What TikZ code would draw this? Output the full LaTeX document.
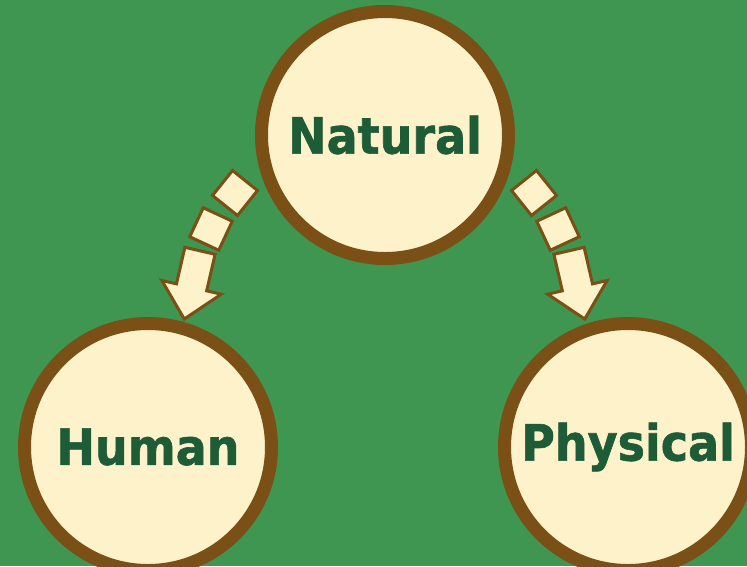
\documentclass[tikz,border=0pt]{standalone}
\usepackage{fontspec}
\newfontfamily\labfont[FakeStretch=0.92,FakeBold=1.2]{DejaVu Sans Bold}
\definecolor{bggreen}{HTML}{3F9650}
\definecolor{cream}{HTML}{FDF2C9}
\definecolor{rimbrown}{HTML}{7A5016}
\definecolor{txtgreen}{HTML}{1E5C38}
\tikzset{
  topic/.style={circle, draw=rimbrown, line width=13pt, fill=cream,
    minimum size=247pt, inner sep=0pt, text=txtgreen,
    font=\labfont\fontsize{50}{56}\selectfont},
  piece/.style={draw=rimbrown, line width=3pt, fill=cream, line join=miter},
}
\begin{document}
\begin{tikzpicture}[x=1pt, y=-1pt]
\useasboundingbox (0,0) rectangle (747,566);
\fill[bggreen] (0,0) rectangle (747,566);
\clip (0,0) rectangle (747,566);
% circles
\node[topic] (natural) at (385,135) {Natural};
\node[topic] (human) at (148,447) {Human};
\node[topic] (physical) at (628,447) {Physical};
% segmented arrow Natural -> Human
\begin{scope}
  \begin{scope}[shift={(235,193)}, rotate=-38.7]
    \draw[piece] (-16,-16) rectangle (16,16);
  \end{scope}
  \begin{scope}[shift={(211,229)}, rotate=-25]
    \draw[piece] (-16,-16) rectangle (16,16);
  \end{scope}
  \begin{scope}[shift={(200,250.8)}, rotate=-13]
    \draw[piece] (-15.5,0) -- (15.5,0) -- (15.5,37.5) -- (30.5,37.5)
      -- (0,70) -- (-30.5,37.5) -- (-15.5,37.5) -- cycle;
  \end{scope}
\end{scope}
% segmented arrow Natural -> Physical (mirror image)
\begin{scope}[shift={(769,0)}, xscale=-1]
  \begin{scope}[shift={(235,193)}, rotate=-38.7]
    \draw[piece] (-16,-16) rectangle (16,16);
  \end{scope}
  \begin{scope}[shift={(211,229)}, rotate=-25]
    \draw[piece] (-16,-16) rectangle (16,16);
  \end{scope}
  \begin{scope}[shift={(200,250.8)}, rotate=-13]
    \draw[piece] (-15.5,0) -- (15.5,0) -- (15.5,37.5) -- (30.5,37.5)
      -- (0,70) -- (-30.5,37.5) -- (-15.5,37.5) -- cycle;
  \end{scope}
\end{scope}
\end{tikzpicture}
\end{document}
